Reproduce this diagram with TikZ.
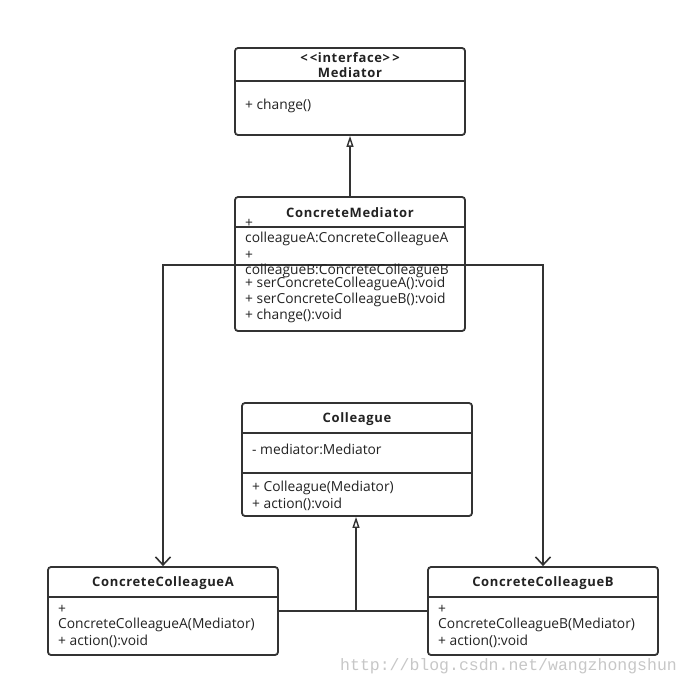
\documentclass[tikz,border=0pt]{standalone}
\usepackage{fontspec}
\setmainfont{Open Sans}
\newfontfamily\ttlfont[LetterSpace=5]{Open Sans Bold}
\newfontfamily\wmfont{Liberation Mono}
\usetikzlibrary{arrows.meta}
\definecolor{ln}{HTML}{333333}
\definecolor{tx}{HTML}{222222}
\tikzset{
  umlbox/.style={draw=ln, line width=1.8pt, rounded corners=3pt, fill=white, inner sep=0pt},
  sep/.style={draw=ln, line width=1.8pt},
  ttl/.style={font=\ttlfont\fontsize{13}{14}\selectfont, text=tx, inner sep=0pt, anchor=center, yshift=-1pt},
  mem/.style={font=\fontsize{13.8}{15}\selectfont, text=tx, inner sep=0pt, anchor=west, yshift=-1pt},
  inh/.style={draw=ln, line width=1.8pt, -{Triangle[open, length=11pt, width=7pt, line width=1.4pt]}},
  assoc/.style={draw=ln, line width=1.8pt, -{Straight Barb[length=8pt, width=15pt, line width=1.6pt]}},
}
\begin{document}
\begin{tikzpicture}[x=1pt, y=-1pt]
\useasboundingbox (0,0) rectangle (690,687);
% Mediator
\node[umlbox, minimum width=230pt, minimum height=87pt] (med) at (350,91.5) {};
\draw[sep] (235,81) -- (465,81);
\node[ttl] (medS) at (350,57) {{<}\,{<}interface{>}\,{>}};
\node[ttl] (medN) at (350,72) {Mediator};
\node[mem] (medM) at (245,105) {+ change()};
% ConcreteMediator
\node[umlbox, minimum width=230pt, minimum height=134pt] (cm) at (350,264) {};
\draw[sep] (235,227) -- (465,227);
\draw[sep] (235,265) -- (465,265);
\node[ttl] (cmN) at (350,212) {ConcreteMediator};
\node[mem] (cm1) at (245,222) {+};
\node[mem] (cm2) at (245,238) {colleagueA:ConcreteColleagueA};
\node[mem] (cm3) at (245,254) {+};
\node[mem] (cm4) at (245,270) {colleagueB:ConcreteColleagueB};
\node[mem] (cm5) at (245,283) {+ serConcreteColleagueA():void};
\node[mem] (cm6) at (245,299) {+ serConcreteColleagueB():void};
\node[mem] (cm7) at (245,315) {+ change():void};
% Colleague
\node[umlbox, minimum width=230pt, minimum height=113pt] (col) at (357,459.5) {};
\draw[sep] (242,433) -- (472,433);
\draw[sep] (242,473) -- (472,473);
\node[ttl] (colN) at (357,418) {Colleague};
\node[mem] (col1) at (252,448) {- mediator:Mediator};
\node[mem] (col2) at (252,487) {+ Colleague(Mediator)};
\node[mem] (col3) at (252,503) {+ action():void};
% ConcreteColleagueA
\node[umlbox, minimum width=230pt, minimum height=88pt] (ccA) at (163,611) {};
\draw[sep] (48,597) -- (278,597);
\node[ttl] (ccAN) at (163,582) {ConcreteColleagueA};
\node[mem] (ccA1) at (58,608) {+};
\node[mem] (ccA2) at (58,624) {ConcreteColleagueA(Mediator)};
\node[mem] (ccA3) at (58,640) {+ action():void};
% ConcreteColleagueB
\node[umlbox, minimum width=230pt, minimum height=88pt] (ccB) at (543,611) {};
\draw[sep] (428,597) -- (658,597);
\node[ttl] (ccBN) at (543,582) {ConcreteColleagueB};
\node[mem] (ccB1) at (438,608) {+};
\node[mem] (ccB2) at (438,624) {ConcreteColleagueB(Mediator)};
\node[mem] (ccB3) at (438,640) {+ action():void};
% connectors
\draw[inh] (cm.north) -- (med.south);
\coordinate (cmL) at (235,265);
\coordinate (cmR) at (465,265);
\draw[assoc] (cmL) -| (ccA.north);
\draw[assoc] (cmR) -| (ccB.north);
\coordinate (jn) at (356,611);
\draw[inh] (ccA.east) -- (jn) -- (jn |- col.south);
\draw[sep] (ccB.west) -- (jn);
% watermark
\node[font=\wmfont\fontsize{16.5}{18}\selectfont, text=black!22, inner sep=0pt, anchor=west] (wm) at (340,666) {http://blog.csdn.net/wangzhongshun};
\end{tikzpicture}
\end{document}
